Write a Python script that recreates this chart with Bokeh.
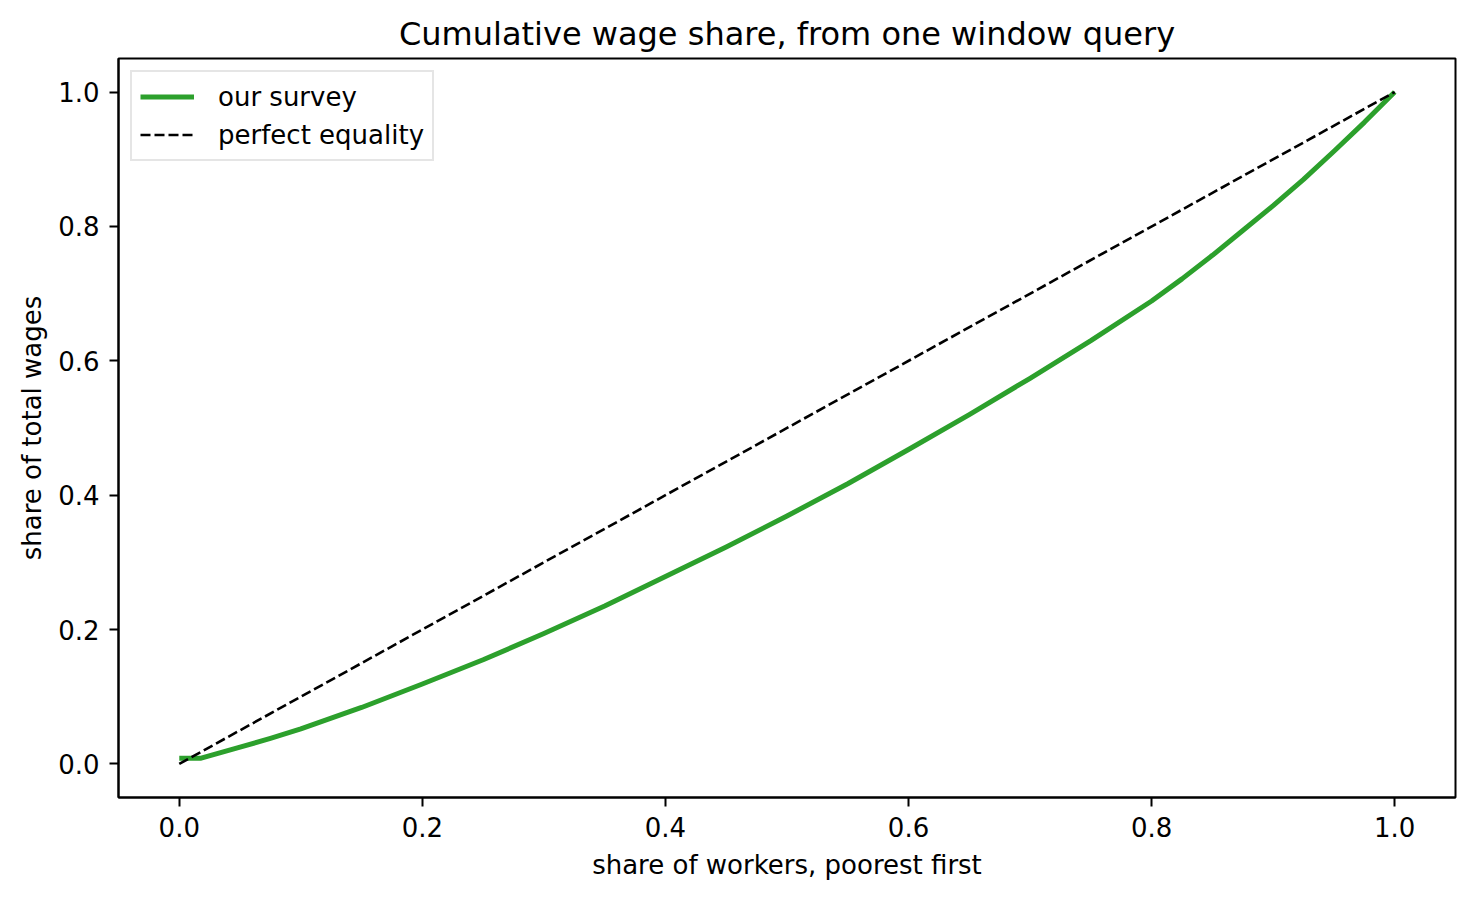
from bokeh.plotting import figure
from bokeh.models import Range1d, FixedTicker, Legend, LegendItem, PrintfTickFormatter
from bokeh.embed import file_html
from bokeh.resources import INLINE

# data
share_workers = [0.0, 0.018, 0.05, 0.075, 0.10, 0.15, 0.20, 0.25, 0.30, 0.35, 0.40, 0.45,
                 0.50, 0.55, 0.60, 0.65, 0.70, 0.75, 0.80, 0.825, 0.85, 0.875, 0.90,
                 0.925, 0.95, 0.975, 1.0]
share_wages = [0.0085, 0.0085, 0.025, 0.038, 0.052, 0.084, 0.119, 0.155, 0.194, 0.235, 0.279, 0.323,
               0.369, 0.417, 0.468, 0.520, 0.574, 0.630, 0.689, 0.722, 0.757, 0.794, 0.831,
               0.870, 0.912, 0.955, 1.0]
equality_x = [0.0, 1.0]
equality_y = [0.0, 1.0]
tick_values = [0.0, 0.2, 0.4, 0.6, 0.8, 1.0]

FONT = "DejaVu Sans"

p = figure(width=1459, height=882, output_backend="svg", toolbar_location=None,
           x_range=Range1d(-0.05, 1.05), y_range=Range1d(-0.05, 1.05),
           min_border_left=118, min_border_right=4, min_border_top=58, min_border_bottom=81,
           title="Cumulative wage share, from one window query")

p.title.text_font = FONT
p.title.text_font_size = "32px"
p.title.text_font_style = "normal"
p.title.align = "center"
p.title.text_color = "black"
p.title.standoff = 12

p.xgrid.visible = False
p.ygrid.visible = False
p.outline_line_color = "black"
p.outline_line_width = 2
p.background_fill_color = "white"
p.border_fill_color = "white"

for ax in (p.xaxis[0], p.yaxis[0]):
    ax.ticker = FixedTicker(ticks=tick_values)
    ax.formatter = PrintfTickFormatter(format="%.1f")
    ax.major_label_text_font = FONT
    ax.major_label_text_font_size = "26px"
    ax.major_label_text_color = "black"
    ax.axis_label_text_font = FONT
    ax.axis_label_text_font_size = "26px"
    ax.axis_label_text_font_style = "normal"
    ax.axis_label_text_color = "black"
    ax.major_tick_out = 9
    ax.major_tick_in = 0
    ax.major_tick_line_width = 2
    ax.minor_tick_line_color = None
    ax.axis_line_width = 2

p.xaxis[0].major_label_standoff = 10
p.yaxis[0].major_label_standoff = 10
p.xaxis[0].axis_label = "share of workers, poorest first"
p.yaxis[0].axis_label = "share of total wages"
p.xaxis[0].axis_label_standoff = 10
p.yaxis[0].axis_label_standoff = 8

r1 = p.line(share_workers, share_wages, line_color="#2ca02c", line_width=5, line_join="round")
r2 = p.line(equality_x, equality_y, line_color="black", line_width=2.6, line_dash="10 4")

legend = Legend(items=[LegendItem(label="our survey", renderers=[r1]),
                       LegendItem(label="perfect equality", renderers=[r2])],
                location="top_left")
legend.margin = 12
legend.padding = 8
legend.spacing = 5
legend.glyph_width = 54
legend.glyph_height = 33
legend.label_height = 33
legend.label_standoff = 24
legend.label_text_font = FONT
legend.label_text_font_size = "26px"
legend.label_text_color = "black"
legend.border_line_color = "#cccccc"
legend.border_line_width = 2
legend.background_fill_alpha = 0.8
p.add_layout(legend)

open("out.html", "w").write(file_html(p, INLINE))
